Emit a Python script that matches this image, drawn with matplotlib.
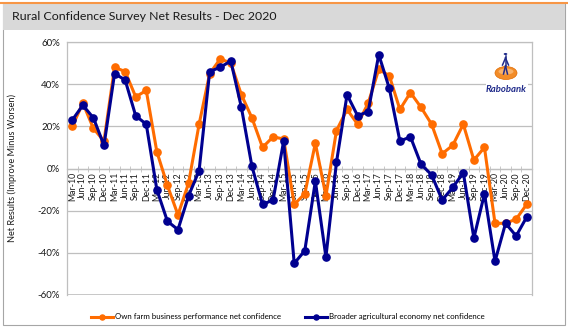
import matplotlib
matplotlib.use("Agg")
import matplotlib.pyplot as plt
from matplotlib.patches import Rectangle, Ellipse, Circle
from matplotlib.lines import Line2D
from matplotlib.ticker import FuncFormatter, FixedLocator

quarters = ["Mar", "Jun", "Sep", "Dec"]
years = list(range(10, 21))
categories = [f"{q}-{y:02d}" for y in years for q in quarters]

own_farm = [20, 31, 19, 13, 48, 46, 34, 37, 8, -8, -22, -7, 21, 45, 52, 50,
            35, 24, 10, 15, 14, -17, -12, 12, -13, 18, 28, 21, 31, 47, 44, 28,
            36, 29, 21, 7, 11, 21, 4, 10, -26, -26, -24, -17]
broader = [23, 30, 24, 11, 45, 42, 25, 21, -10, -25, -29, -13, -1, 46, 48, 51,
           29, 1, -17, -15, 13, -45, -39, -6, -42, 3, 35, 25, 27, 54, 38, 13,
           15, 2, -3, -15, -9, -2, -33, -12, -44, -26, -32, -23]
y_ticks = [-60, -40, -20, 0, 20, 40, 60]

title = "Rural Confidence Survey Net Results - Dec 2020"
ylabel = "Net Results (Improve Minus Worsen)"
label_own = "Own farm business performance net confidence"
label_broad = "Broader agricultural economy net confidence"

ORANGE = "#FF6C00"
BLUE = "#000090"
GRID = "#BFBFBF"
FONT = ["Lato", "DejaVu Sans"]
plt.rcParams["font.family"] = FONT

W, H = 568, 329
fig = plt.figure(figsize=(W / 100, H / 100), dpi=100)

def fx(x):
    return x / W

def fy(y):
    return 1 - y / H

# panel background
fig.patches.append(Rectangle((fx(3), fy(325)), fx(562), (322) / H,
                             transform=fig.transFigure, facecolor="white",
                             edgecolor="#A6A6A6", lw=0.8, zorder=0))
fig.patches.append(Rectangle((fx(3), fy(30)), fx(562), 27 / H,
                             transform=fig.transFigure, facecolor="#D9D9D9",
                             edgecolor="none", zorder=0))
fig.add_artist(Line2D([fx(0), fx(568)], [fy(2.5), fy(2.5)], color="#F79646",
                      lw=1.5, transform=fig.transFigure))
fig.text(fx(12), fy(17), title, fontsize=8.9, color="#1a1a1a",
         ha="left", va="center")

ax = fig.add_axes([fx(67), fy(295), fx(532 - 67), (295 - 42) / H])
ax.set_zorder(1)
ax.patch.set_visible(False)
ax.spines["bottom"].set_position(("data", 0))

x = list(range(len(categories)))
ax.plot(x, own_farm, color=ORANGE, lw=2.2, marker="o", ms=5.2,
        label=label_own, zorder=3)
ax.plot(x, broader, color=BLUE, lw=2.2, marker="o", ms=5.2,
        label=label_broad, zorder=4)

ax.set_xlim(-0.5, len(categories) - 0.5)
ax.set_ylim(-60, 60)
ax.set_yticks(y_ticks)
ax.yaxis.set_major_formatter(FuncFormatter(lambda v, p: f"{int(v)}%"))
ax.tick_params(axis="y", length=0, pad=5, labelsize=7, labelcolor="#1a1a1a")
ax.grid(axis="y", color=GRID, lw=0.9)
ax.set_axisbelow(True)

ax.set_xticks(x)
ax.set_xticklabels(categories, rotation=90, fontsize=6.3, color="#1a1a1a",
                   va="top", ha="center")
ax.xaxis.set_minor_locator(FixedLocator([i - 0.5 for i in range(len(categories) + 1)]))
ax.tick_params(axis="x", which="major", length=0, pad=2.5)
ax.tick_params(axis="x", which="minor", length=4, direction="inout", color=GRID)
for s in ax.spines.values():
    s.set_color(GRID)
    s.set_linewidth(0.9)
ax.axhline(-60, color=GRID, lw=1.2, zorder=1)

fig.text(fx(12.5), fy(168), ylabel, rotation=90, fontsize=6.6,
         color="#1a1a1a", ha="center", va="center")

# Rabobank logo (drawn above the axes)
Z = 5
fig.patches.append(Rectangle((fx(486), fy(96)), fx(42), 50 / H,
                             transform=fig.transFigure, facecolor="white",
                             edgecolor="none", zorder=Z))
fig.patches.append(Ellipse((fx(506), fy(73)), fx(22), 13 / H,
                           transform=fig.transFigure, facecolor="#F28C28",
                           edgecolor="#E06A00", lw=0.5, zorder=Z + 1))
fig.patches.append(Ellipse((fx(506), fy(71.5)), fx(15), 6 / H,
                           transform=fig.transFigure, facecolor="#F9B36B",
                           edgecolor="none", zorder=Z + 1))
fig.patches.append(Circle((fx(505.5), fy(54)), 1.8 / W,
                          transform=fig.transFigure, facecolor="#1F2A8A",
                          edgecolor="none", zorder=Z + 2))
for (x0, y0, x1, y1) in [(505.5, 56, 505.5, 66), (505.5, 66, 503.5, 74),
                         (505.5, 66, 507.5, 74), (505.5, 58, 502.5, 65),
                         (505.5, 58, 508.5, 65)]:
    fig.add_artist(Line2D([fx(x0), fx(x1)], [fy(y0), fy(y1)], color="#1F2A8A",
                          lw=1.1, transform=fig.transFigure, zorder=Z + 2))
fig.text(fx(506), fy(89), "Rabobank", fontsize=6.8, color="#1F2A8A",
         fontweight="bold", style="italic", ha="center", va="center",
         zorder=Z + 3)

handles, labels = ax.get_legend_handles_labels()
leg = fig.legend(handles, labels, loc="center", ncol=2,
                 bbox_to_anchor=(fx(288), fy(317)), frameon=False,
                 fontsize=5.65, handlelength=2.8, handletextpad=0.25,
                 columnspacing=3.0, markerscale=0.7, borderpad=0)

fig.savefig("out.png", dpi=100)
